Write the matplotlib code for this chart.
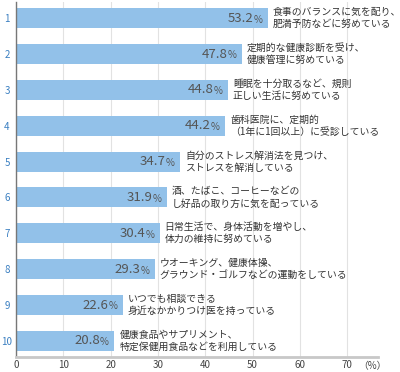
import matplotlib.pyplot as plt

plt.rcParams['font.family'] = ['Noto Sans CJK JP', 'DejaVu Sans']

ranks = ['1', '2', '3', '4', '5', '6', '7', '8', '9', '10']
values = [53.2, 47.8, 44.8, 44.2, 34.7, 31.9, 30.4, 29.3, 22.6, 20.8]
labels = [
    '食事のバランスに気を配り、\n肥満予防などに努めている',
    '定期的な健康診断を受け、\n健康管理に努めている',
    '睡眠を十分取るなど、規則\n正しい生活に努めている',
    '歯科医院に、定期的\n（1年に1回以上）に受診している',
    '自分のストレス解消法を見つけ、\nストレスを解消している',
    '酒、たばこ、コーヒーなどの\nし好品の取り方に気を配っている',
    '日常生活で、身体活動を増やし、\n体力の維持に努めている',
    'ウオーキング、健康体操、\nグラウンド・ゴルフなどの運動をしている',
    'いつでも相談できる\n身近なかかりつけ医を持っている',
    '健康食品やサプリメント、\n特定保健用食品などを利用している',
]
xticks = [0, 10, 20, 30, 40, 50, 60, 70]

fig = plt.figure(figsize=(4, 3.72), dpi=100)
ax = fig.add_axes([0.04, 0.0403, 0.905, 0.9543])

ypos = list(range(len(values)))
ax.barh(ypos, values, height=0.56, color='#92c1e9', zorder=2)

for y, v, lab in zip(ypos, values, labels):
    ax.annotate('%', (v, y), xytext=(-4, -1), textcoords='offset points',
                ha='right', va='center', fontsize=7, color='#555555', zorder=3)
    ax.annotate(f'{v:.1f}', (v, y), xytext=(-10.5, 0), textcoords='offset points',
                ha='right', va='center', fontsize=9.5, color='#555555', zorder=3)
    ax.annotate(lab, (v, y), xytext=(3.5, 0), textcoords='offset points',
                ha='left', va='center', fontsize=7.1, color='#333333',
                linespacing=1.25, zorder=3, annotation_clip=False)

ax.set_xlim(0, 76.5)
ax.set_ylim(9.45, -0.45)
ax.set_xticks(xticks)
ax.set_xticklabels([str(t) for t in xticks], fontsize=7, color='#444444')
ax.set_yticks(ypos)
ax.set_yticklabels(ranks, fontsize=7, color='#3a7fc1')
ax.tick_params(length=0, axis='x', pad=2)
ax.tick_params(length=0, axis='y', pad=6.5)
for lbl in ax.get_yticklabels():
    lbl.set_horizontalalignment('center')

ax.grid(axis='x', color='#e2e2e2', linewidth=0.8, zorder=0)
ax.spines['top'].set_visible(False)
ax.spines['right'].set_visible(False)
ax.spines['left'].set_color('#777777')
ax.spines['left'].set_linewidth(1)
ax.spines['bottom'].set_color('#c8c8c8')
ax.spines['bottom'].set_linewidth(2)

ax.text(72.3, -0.012, '（%）', transform=ax.get_xaxis_transform(), ha='left',
        va='top', fontsize=7, color='#444444')

fig.savefig('out.png', dpi=100)
